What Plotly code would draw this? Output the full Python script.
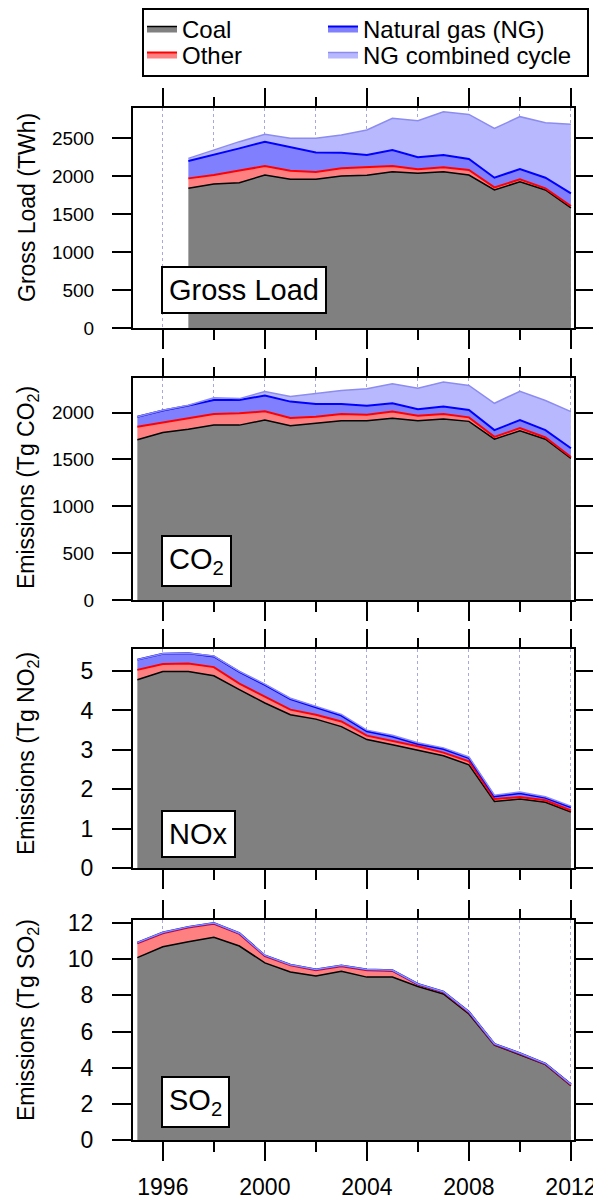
import plotly.graph_objects as go

# ---------------- data ----------------
years_load = list(range(1997, 2013))
years = list(range(1995, 2013))

# Gross load (TWh)
load_coal = [1838, 1895, 1912, 2013, 1956, 1956, 2000, 2010, 2057, 2035, 2057, 2013, 1816, 1925, 1816, 1580]
load_other = [131, 118, 160, 118, 114, 96, 101, 104, 74, 53, 57, 66, 35, 31, 22, 25]
load_ng = [228, 263, 292, 321, 316, 259, 206, 162, 211, 158, 162, 145, 127, 136, 140, 167]
load_ngcc = [35, 66, 88, 96, 110, 185, 232, 329, 417, 482, 570, 587, 649, 689, 724, 908]

# CO2 emissions (Tg CO2)
co2_coal = [1710, 1788, 1824, 1867, 1867, 1921, 1860, 1885, 1914, 1914, 1939, 1914, 1932, 1907, 1717, 1806, 1717, 1513]
co2_other = [139, 108, 119, 119, 126, 93, 83, 72, 72, 65, 72, 54, 54, 43, 25, 29, 18, 14]
co2_ng = [108, 126, 132, 150, 143, 169, 175, 136, 107, 96, 89, 68, 79, 79, 72, 86, 79, 93]
co2_ngcc = [0, 3, 5, 22, 14, 43, 54, 108, 144, 180, 208, 226, 261, 261, 286, 308, 315, 391]

# NOx emissions (Tg NO2)
nox_coal = [4.78, 4.99, 4.99, 4.88, 4.53, 4.19, 3.89, 3.78, 3.59, 3.26, 3.13, 2.99, 2.85, 2.62, 1.69, 1.75, 1.67, 1.42]
nox_other = [0.25, 0.19, 0.20, 0.22, 0.15, 0.15, 0.13, 0.11, 0.13, 0.10, 0.10, 0.10, 0.08, 0.09, 0.06, 0.05, 0.05, 0.04]
nox_ng = [0.26, 0.26, 0.26, 0.27, 0.30, 0.31, 0.27, 0.19, 0.15, 0.11, 0.11, 0.06, 0.09, 0.08, 0.07, 0.10, 0.06, 0.08]
nox_ngcc = [0, 0, 0, 0.01, 0.01, 0.02, 0.02, 0.02, 0.03, 0.03, 0.03, 0.03, 0.03, 0.03, 0.03, 0.03, 0.03, 0.03]

# SO2 emissions (Tg SO2)
so2_coal = [10.09, 10.69, 10.97, 11.21, 10.73, 9.80, 9.29, 9.07, 9.33, 9.01, 9.01, 8.49, 8.08, 6.97, 5.25, 4.73, 4.17, 3.00]
so2_other = [0.79, 0.75, 0.78, 0.75, 0.67, 0.37, 0.37, 0.32, 0.28, 0.38, 0.34, 0.11, 0.09, 0.09, 0.04, 0.04, 0.03, 0.05]
so2_ng = [0.04, 0.04, 0.04, 0.04, 0.04, 0.04, 0.04, 0.04, 0.04, 0.04, 0.04, 0.03, 0.03, 0.03, 0.03, 0.03, 0.03, 0.03]
so2_ngcc = [0] * 18

series_names = ["Coal", "Other", "Natural gas (NG)", "NG combined cycle"]
panel_titles = ["Gross Load (TWh)", "Emissions (Tg CO<sub>2</sub>)",
                "Emissions (Tg NO<sub>2</sub>)", "Emissions (Tg SO<sub>2</sub>)"]
panel_labels = ["Gross Load", "CO<sub>2</sub>", "NOx", "SO<sub>2</sub>"]
x_tick_labels = ["1996", "2000", "2004", "2008", "2012"]
x_minor_ticks = [1998, 2002, 2006, 2010]

panels = [
    (years_load, [load_coal, load_other, load_ng, load_ngcc]),
    (years, [co2_coal, co2_other, co2_ng, co2_ngcc]),
    (years, [nox_coal, nox_other, nox_ng, nox_ngcc]),
    (years, [so2_coal, so2_other, so2_ng, so2_ngcc]),
]

# ---------------- styles ----------------
OFF = 8                      # page body margin of the html page
W, H = 601 - OFF, 1204 - OFF
ML, MR, MT, MB = 133 - OFF, 27, 108 - OFF, 64
PW = W - ML - MR
PH = H - MT - MB
FONT = "Liberation Sans, Arial, sans-serif"

line_colors = ["#000000", "#ff0000", "#0000ff", "#8c8cf0"]
fill_colors = ["#808080", "#ff8080", "#8080ff", "#b8b8ff"]
line_widths = [1.5, 2, 2, 1.5]
legend_ids = ["legend", "legend2", "legend3", "legend4"]
# legend entry positions in page pixels (left, vertical centre)
legend_pos = [(142, 29), (142, 55), (323, 29), (323, 55)]

panel_px = [(108, 328), (378, 600), (649, 868), (920, 1140)]
y_ranges = [[0, 2895], [0, 2370], [0, 5.56], [0, 12.17]]
y_dticks = [500, 500, 1, 2]
y_fonts = [19, 19, 23, 23]
label_bottoms = [314, 587, 858, 1128]
title_centers = [208, 488, 754, 1020]
X_RANGE = [1994.83, 2012.12]


def yfrac(py):            # page pixel -> paper fraction
    return (1204 - MB - py) / PH


def xfrac(px):
    return (px - 133) / PW


fig = go.Figure()

for i, (xs, vals) in enumerate(panels):
    s = "" if i == 0 else str(i + 1)
    for j, name in enumerate(series_names):
        fig.add_trace(go.Scatter(
            x=xs, y=vals[j], name=name, mode="lines",
            stackgroup=f"p{i}",
            line=dict(color=line_colors[j], width=line_widths[j]),
            fillcolor=fill_colors[j],
            showlegend=(i == 0), legend=legend_ids[j],
            xaxis=f"x{s}", yaxis=f"y{s}",
        ))
    # empty traces that instantiate the mirrored tick axes (top / right)
    fig.add_trace(go.Scatter(x=[], y=[], xaxis=f"x{i + 5}", yaxis=f"y{s}",
                             showlegend=False, hoverinfo="skip"))
    fig.add_trace(go.Scatter(x=[], y=[], xaxis=f"x{s}", yaxis=f"y{i + 5}",
                             showlegend=False, hoverinfo="skip"))

grid_col = "#a8a8e0"
layout = dict(
    width=W, height=H,
    margin=dict(l=ML, r=MR, t=MT, b=MB, autoexpand=False),
    paper_bgcolor="white", plot_bgcolor="white",
    font=dict(family=FONT, color="black"),
    showlegend=True,
    shapes=[dict(type="rect", xref="paper", yref="paper",
                 x0=xfrac(143), x1=xfrac(588), y0=yfrac(76), y1=yfrac(9),
                 line=dict(color="black", width=2), fillcolor="rgba(0,0,0,0)",
                 layer="above")],
)
for k, lid in enumerate(legend_ids):
    lx, ly = legend_pos[k]
    layout[lid] = dict(
        orientation="v", xref="container", yref="container",
        x=(lx - OFF) / W, y=1 - (ly - OFF) / H,
        xanchor="left", yanchor="middle",
        borderwidth=0, bgcolor="rgba(0,0,0,0)",
        font=dict(size=24, family=FONT),
    )

tick_common = dict(ticks="outside", ticklen=19, tickwidth=2, tickcolor="black")
annotations = []
for i in range(4):
    s = "" if i == 0 else str(i + 1)
    top, bot = panel_px[i]
    layout[f"xaxis{s}"] = dict(
        domain=[0, 1], anchor=f"y{s}", range=X_RANGE,
        tickmode="array", tickvals=[int(t) for t in x_tick_labels], ticktext=x_tick_labels,
        showline=True, linecolor="black", linewidth=2, mirror=True,
        showgrid=True, gridcolor=grid_col, griddash="dot", gridwidth=1,
        minor=dict(tickvals=x_minor_ticks, ticks="outside", ticklen=10,
                   tickwidth=2, tickcolor="black",
                   showgrid=True, gridcolor=grid_col, griddash="dot", gridwidth=1),
        zeroline=False, showticklabels=(i == 3),
        tickfont=dict(size=23, family=FONT), ticklabelstandoff=6,
        **tick_common,
    )
    layout[f"xaxis{i + 5}"] = dict(
        overlaying=f"x{s}", anchor=f"y{s}", side="top", range=X_RANGE,
        tickmode="array", tickvals=[int(t) for t in x_tick_labels],
        minor=dict(tickvals=x_minor_ticks, ticks="outside", ticklen=10,
                   tickwidth=2, tickcolor="black", showgrid=False),
        showticklabels=False, showgrid=False, zeroline=False, showline=False,
        **tick_common,
    )
    layout[f"yaxis{s}"] = dict(
        domain=[yfrac(bot), yfrac(top)], anchor=f"x{s}",
        range=y_ranges[i], dtick=y_dticks[i], tick0=0,
        showline=True, linecolor="black", linewidth=2, mirror=True,
        showgrid=False, zeroline=False,
        tickfont=dict(size=y_fonts[i], family=FONT), ticklabelstandoff=14,
        **tick_common,
    )
    layout[f"yaxis{i + 5}"] = dict(
        overlaying=f"y{s}", anchor=f"x{s}", side="right",
        range=y_ranges[i], dtick=y_dticks[i], tick0=0,
        showticklabels=False, showgrid=False, zeroline=False, showline=False,
        **tick_common,
    )
    annotations.append(dict(
        text=panel_labels[i], xref=f"x{s} domain", yref=f"y{s} domain",
        x=xfrac(161), y=(bot - label_bottoms[i]) / (bot - top),
        xanchor="left", yanchor="bottom", showarrow=False,
        font=dict(size=29, family=FONT, color="black"),
        bgcolor="white", bordercolor="black", borderwidth=2, borderpad=6,
    ))
    annotations.append(dict(
        text=panel_titles[i], xref="paper", yref="paper",
        x=xfrac(27), y=yfrac(title_centers[i]),
        xanchor="center", yanchor="middle", textangle=-90, showarrow=False,
        font=dict(size=23, family=FONT, color="black"),
    ))

layout["annotations"] = annotations
fig.update_layout(**layout)
fig.write_html("out.html")
